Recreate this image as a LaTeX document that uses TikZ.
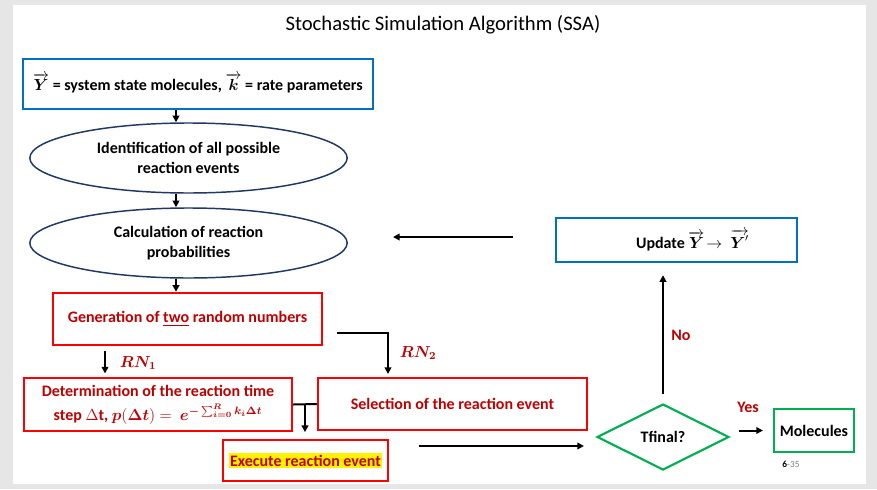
\documentclass[tikz,border=0pt]{standalone}
\usepackage{amsmath}
\usepackage{fontspec}
\setmainfont{Carlito}
\usepackage{xcolor}
\definecolor{sBlue}{HTML}{0070C0}
\definecolor{sNavy}{HTML}{1F3864}
\definecolor{sRed}{HTML}{FF0000}
\definecolor{sDarkRed}{HTML}{C00000}
\definecolor{sGreen}{HTML}{00B050}
\definecolor{sGrey}{HTML}{E6E6E6}
\usetikzlibrary{arrows.meta, shapes.geometric, calc}

\begin{document}
\begin{tikzpicture}[
  x=0.75pt, y=-0.75pt,
  every node/.style={font=\bfseries\fontsize{12}{14.5}\selectfont, align=center},
  bluebox/.style={rectangle, draw=sBlue, line width=1.8pt, inner sep=0pt},
  redbox/.style={rectangle, draw=sRed, line width=1.8pt, inner sep=0pt, text=sDarkRed},
  oval/.style={ellipse, draw=sNavy, line width=1.1pt, inner sep=0pt,
               minimum width=238pt, minimum height=52.5pt},
  greenbox/.style={draw=sGreen, line width=1.6pt, inner sep=0pt},
  arr/.style={-{Triangle[length=5pt,width=5pt]}, line width=1.5pt},
  lbl/.style={text=sDarkRed}
]
% slide
\fill[sGrey] (0,0) rectangle (877,489);
\fill[white] (13,5) rectangle (866,484);
\node[font=\fontsize{15.5}{18}\selectfont] (title) at (443,25) {Stochastic Simulation Algorithm (SSA)};

% left column
\node[bluebox, minimum width=262.5pt, minimum height=37.5pt] (init) at (198,84)
  {\raisebox{3pt}{$\overrightarrow{\boldsymbol{Y}}$ = system state molecules, $\overrightarrow{\boldsymbol{k}}$ = rate parameters}};
\node[oval] (ident) at (188.5,158) {Identification of all possible\\reaction events};
\node[oval] (calc) at (188.5,243) {Calculation of reaction\\probabilities};
\node[redbox, minimum width=201.75pt, minimum height=39pt] (gen) at (187.5,319)
  {Generation of \underline{two} random numbers};
\node[redbox, minimum width=201pt, minimum height=39.75pt,
      font=\bfseries\fontsize{12}{18}\selectfont] (tstep) at (158,404.5)
  {Determination of the reaction time\\step \(\Delta\)t, $\boldsymbol{p}(\boldsymbol{\Delta t}) =\ \boldsymbol{e^{-\sum_{i=0}^{R}k_i\Delta t}}$};
\node[redbox, minimum width=201.75pt, minimum height=39pt] (select) at (452.5,404)
  {Selection of the reaction event};
\node[redbox, minimum width=123.75pt, minimum height=30.75pt] (exec) at (305.5,460.5)
  {\setlength{\fboxsep}{1pt}\colorbox{yellow}{Execute reaction event}};

% right side
\node[bluebox, minimum width=180.75pt, minimum height=33pt] (update) at (676.5,240)
  {\hspace*{24pt}Update $\overrightarrow{\boldsymbol{Y}}\!\rightarrow\ \overrightarrow{\boldsymbol{Y}'}$};
\node[diamond, greenbox, minimum width=99pt, minimum height=49.5pt] (tfinal) at (663,437) {Tfinal?};
\node[greenbox, minimum width=60pt, minimum height=32.25pt] (mol) at (814,430.5) {Molecules};

% labels
\node[lbl] (rn1) at (138,363) {$\boldsymbol{RN_1}$};
\node[lbl] (rn2) at (418,353) {$\boldsymbol{RN_2}$};
\node[lbl] (no) at (681,335) {No};
\node[lbl] (yes) at (748,407) {Yes};
\node[font=\bfseries\fontsize{7}{8}\selectfont] (page) at (791,464) {6\textcolor{gray}{\mdseries-35}};

% connectors
\coordinate (spine) at (176,0);
\draw[arr] (init.south -| spine) -- (ident.north -| spine);
\draw[arr] (ident.south -| spine) -- (calc.north -| spine);
\draw[arr] (calc.south -| spine) -- (gen.north -| spine);
\coordinate (rn1x) at (105,0);
\draw[arr, shorten <=3.75pt, shorten >=2.5pt] (gen.south -| rn1x) -- (tstep.north -| rn1x);
\coordinate (rn2a) at (337,333);
\coordinate (rn2b) at (388,374);
\draw[arr] (rn2a) -| (rn2b);
\coordinate (tee) at ($(tstep.east)!0.5!(select.west)$);
\draw[line width=1.5pt] (tstep.east) -- (select.west);
\draw[arr, shorten >=5pt] (tee) -- (tee |- exec.north);
\coordinate (execout) at (419,446);
\draw[arr, shorten >=9pt] (execout) -- (tfinal.west |- execout);
\draw[arr, shorten <=7pt, shorten >=9pt] (tfinal.north) -- (update.south -| tfinal.north);
\coordinate (backa) at (513,237);
\coordinate (backb) at (393,237);
\draw[arr] (backa) -- (backb);
\draw[arr, shorten <=7pt, shorten >=7.5pt] (tfinal.east |- mol.west) -- (mol.west);
\end{tikzpicture}
\end{document}
